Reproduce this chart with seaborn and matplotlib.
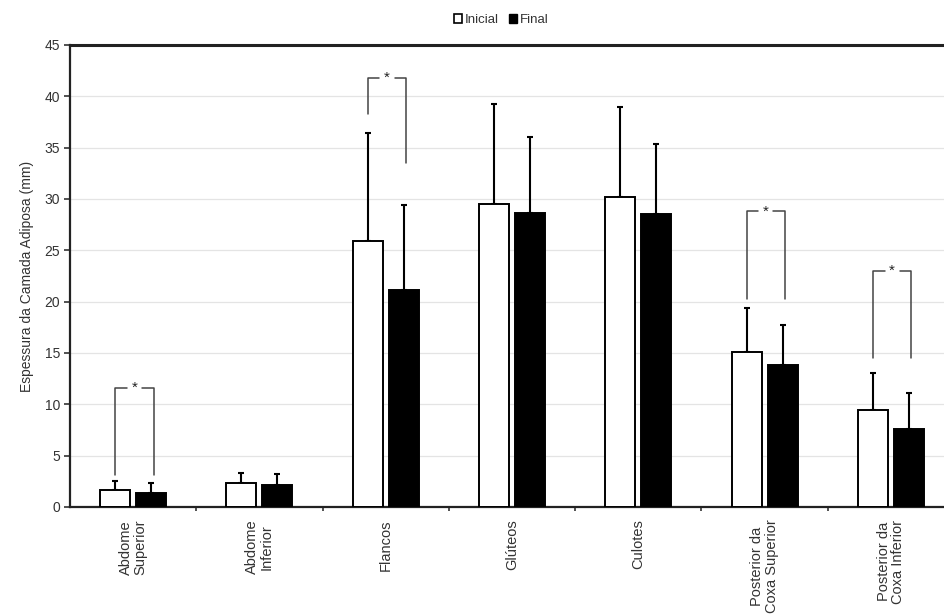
import matplotlib
matplotlib.use("Agg")
import matplotlib.pyplot as plt
import seaborn as sns
import pandas as pd
import numpy as np
from matplotlib.patches import Patch

regions = ["Abdome\nSuperior", "Abdome\nInferior", "Flancos", "Glúteos", "Culotes",
           "Posterior da\nCoxa Superior", "Posterior da\nCoxa Inferior"]
inicial = [1.65, 2.3, 25.9, 29.5, 30.2, 15.1, 9.4]
final = [1.4, 2.1, 21.1, 28.6, 28.5, 13.8, 7.6]
inicial_sd = [0.85, 1.0, 10.5, 9.8, 8.8, 4.3, 3.7]
final_sd = [0.9, 1.1, 8.3, 7.4, 6.9, 3.9, 3.5]

# significance brackets: region index, top height, left leg bottom, right leg bottom
sig_idx = [0, 2, 5, 6]
sig_top = [11.6, 41.8, 28.8, 23.0]
sig_left = [3.1, 38.3, 20.3, 14.5]
sig_right = [3.1, 33.5, 20.3, 14.5]

sns.set_theme(style="white")
plt.rcParams['font.family'] = ['Liberation Sans', 'DejaVu Sans']

df = pd.DataFrame({
    "region": regions * 2,
    "value": inicial + final,
    "grupo": ["Inicial"] * len(regions) + ["Final"] * len(regions),
})

fig = plt.figure(figsize=(9.44, 6.15), dpi=100)
ax = fig.add_axes([70 / 944, 1 - 507 / 615, (954 - 70) / 944, 462 / 615])

sns.barplot(data=df, x="region", y="value", hue="grupo", hue_order=["Inicial", "Final"],
            palette=["white", "black"], edgecolor="black", linewidth=1.4,
            width=0.572, gap=0.17, errorbar=None, legend=False, ax=ax, zorder=3)

bars = [p for p in ax.patches if p.get_height() > 0]
n = len(regions)
bars_i = bars[:n]
bars_f = bars[n:]
xi = [b.get_x() + b.get_width() / 2 for b in bars_i]
xf = [b.get_x() + b.get_width() / 2 for b in bars_f]

ax.errorbar(xi, inicial, yerr=[np.zeros(n), inicial_sd], fmt="none", ecolor="black",
            elinewidth=1.5, capsize=2.5, capthick=1.5, zorder=2)
ax.errorbar(xf, final, yerr=[np.zeros(n), final_sd], fmt="none", ecolor="black",
            elinewidth=1.5, capsize=2.5, capthick=1.5, zorder=2)

for k, i in enumerate(sig_idx):
    xl = xi[i]
    xr = xf[i] + 0.02
    xc = (xl + xr) / 2
    g = 0.06
    ax.plot([xl, xl, xc - g], [sig_left[k], sig_top[k], sig_top[k]], color="#444444", lw=1.1, zorder=4)
    ax.plot([xc + g, xr, xr], [sig_top[k], sig_top[k], sig_right[k]], color="#444444", lw=1.1, zorder=4)
    ax.text(xc, sig_top[k], "*", ha="center", va="center", fontsize=11, color="#222222")

ax.set_ylim(0, 45)
ax.set_xlim(-0.5, n - 0.5)
ax.set_yticks(np.arange(0, 46, 5))
ax.yaxis.grid(True, color="#e4e4e4", lw=0.9)
ax.set_axisbelow(True)
ax.set_xticks(range(n))
ax.set_xticklabels(regions, rotation=90, fontsize=10.5, color="#333333", multialignment="center",
                   linespacing=1.05)
ax.set_xticks(np.arange(0.5, n - 0.5, 1), minor=True)
ax.tick_params(axis="x", which="major", length=0, pad=9)
ax.tick_params(axis="x", which="minor", length=3, width=1.2, color="#333333", bottom=True)
ax.tick_params(axis="y", length=4, width=1.2, color="#333333", left=True, labelsize=10,
               labelcolor="#333333", pad=3)
ax.set_xlabel("")
ax.set_ylabel("Espessura da Camada Adiposa (mm)", fontsize=10, color="#333333", labelpad=8)

for s in ["left", "bottom", "top"]:
    ax.spines[s].set_visible(True)
    ax.spines[s].set_color("#222222")
ax.spines["left"].set_linewidth(1.6)
ax.spines["bottom"].set_linewidth(1.6)
ax.spines["top"].set_linewidth(2.2)
ax.spines["right"].set_visible(False)

handles = [Patch(facecolor="white", edgecolor="black", lw=1.2, label="Inicial"),
           Patch(facecolor="black", edgecolor="black", label="Final")]
fig.legend(handles=handles, loc="center", bbox_to_anchor=(501 / 944, 1 - 20 / 615), ncol=2,
           frameon=False, fontsize=9.5, handlelength=0.6, handleheight=0.6,
           handletextpad=0.2, columnspacing=0.8, labelcolor="#333333")

fig.savefig("out.png", dpi=100)
